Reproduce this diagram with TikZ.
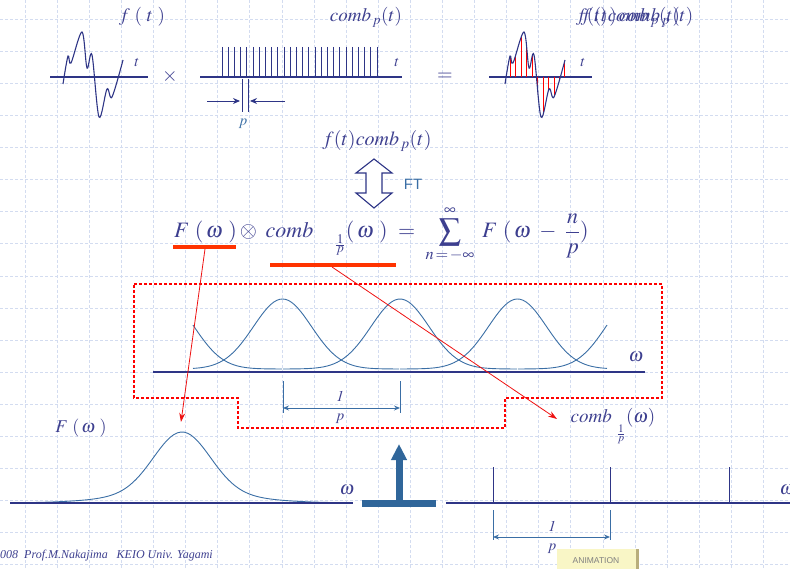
\documentclass[tikz,border=0pt]{standalone}
\usepackage{amsmath,amssymb}
\usepackage{mathptmx}
\usepackage{fontspec}
\setmainfont{Liberation Serif}
\setsansfont{Liberation Sans}
\usetikzlibrary{arrows.meta}
\definecolor{ink}{HTML}{3D3F8F}
\definecolor{axisnavy}{HTML}{2E3586}
\definecolor{steel}{HTML}{3A6EA5}
\definecolor{gridblue}{HTML}{D3DCF0}
\definecolor{hilite}{HTML}{FF3300}
\definecolor{pointred}{HTML}{EE1111}
\definecolor{bigarrow}{HTML}{30669A}
\definecolor{button}{HTML}{F9F6C6}
\definecolor{buttonedge}{HTML}{B9AE7C}

\begin{document}
\begin{tikzpicture}[x=1pt,y=-1pt,every node/.style={font=\fontsize{19}{22}\selectfont,text=ink,inner sep=0pt},
  axisline/.style={axisnavy,line width=1.1pt},
  curve/.style={steel,line width=0.9pt},
  dimline/.style={steel,line width=0.8pt},
  dimarrow/.style={steel,line width=0.9pt,{Stealth[length=6pt,width=5pt]}-{Stealth[length=6pt,width=5pt]}},
  pointer/.style={pointred,line width=0.8pt,-{Stealth[length=9pt,width=6pt]}},
  underbar/.style={hilite,line width=3.5pt},
  outline/.style={red,line width=2.6pt,dash pattern=on 2.6pt off 2.4pt},
  small/.style={font=\fontsize{15}{17}\selectfont}]
\useasboundingbox (0,0) rectangle (790,569);
\foreach \k in {0,...,24}{\draw[gridblue,line width=.5pt,dash pattern=on 3pt off 2pt] (25+32.1*\k,0)--(25+32.1*\k,569);}
\foreach \k in {0,...,17}{\draw[gridblue,line width=.5pt,dash pattern=on 3pt off 2pt] (0,19+32.1*\k)--(790,19+32.1*\k);}
\draw[axisline] (50,77)--(148,77);
\draw[axisnavy,line width=1.1pt] plot[smooth,tension=.55] coordinates {(63,84) (68,56) (71,63) (82,32) (87,68) (92,55) (99,117) (107,89) (112,97) (123,60)};
\node (ft) at (142,17) {$f\ (\ t\ )$};
\node[small] (tA) at (137,63) {$t$};
\node[font=\fontsize{20}{22}\selectfont] (times) at (170,77) {$\times$};
\draw[axisline] (200,77)--(402,77);
\foreach \i in {0,...,25}{\draw[axisnavy,line width=.7pt] (222+6.2*\i,47)--(222+6.2*\i,77);}
\draw[axisnavy,line width=.9pt] (242,79)--(242,112) (248,79)--(248,112);
\coordinate (pL0) at (207,101);
\coordinate (pL1) at (240,101);
\coordinate (pR0) at (285,101);
\coordinate (pR1) at (250,101);
\draw[axisnavy,line width=.9pt,-{Stealth[length=7pt,width=6pt]}] (pL0)--(pL1);
\draw[axisnavy,line width=.9pt,-{Stealth[length=7pt,width=6pt]}] (pR0)--(pR1);
\node[small,text=steel] (pA) at (243,124) {$p$};
\node (combp) at (366,17) {$comb_{\,p}(t)$};
\node[small] (tB) at (397,63) {$t$};
\node[font=\fontsize{20}{22}\selectfont] (equals) at (445,77) {$=$};
\draw[axisline] (489,77)--(592,77);
\begin{scope}[shift={(442,0)}]
\begin{scope}
\clip plot[smooth,tension=.55] coordinates {(63,84) (68,56) (71,63) (82,32) (87,68) (92,55) (99,117) (107,89) (112,97) (123,60)}--(123,77)--(63,77)--cycle;
\foreach \x in {68,73.5,79,84.5,90,95.5,101,106.5,112,117.5,122.5}{\draw[red,line width=.7pt] (\x,20)--(\x,130);}
\end{scope}
\draw[axisnavy,line width=1.1pt] plot[smooth,tension=.55] coordinates {(63,84) (68,56) (71,63) (82,32) (87,68) (92,55) (99,117) (107,89) (112,97) (123,60)};
\end{scope}
\node[small] (tC) at (583,63) {$t$};
\node (prodA) at (628,17) {$f(t)comb_{\,p}(t)$};
\node (prodB) at (637,17) {$f\,(t\,)\,comb_{\,p}\,(t)$};
\node[font=\fontsize{20}{22}\selectfont] (ftcomb) at (377,141) {$f(t)comb_{\,p}(t)$};
\draw[axisnavy,line width=1.1pt,fill=white] (374,159)--(392,173)--(382,173)--(382,193)--(392,193)--(374,208)--(356,193)--(366,193)--(366,173)--(356,173)--cycle;
\node[font=\sffamily\fontsize{15}{17}\selectfont,text=steel] (ftlabel) at (413,184) {FT};
\node[anchor=base west,font=\fontsize{22}{25}\selectfont] (conv) at (174,238) {$F\ (\,\omega\ )\otimes\ comb\quad{}_{\raisebox{-.7ex}{$\scriptscriptstyle\frac{1}{p}$}}(\,\omega\ )\ =\ \displaystyle\sum_{n\,=\,-\infty}^{\infty}\ F\ (\,\omega\ -\ \frac{n}{p})$};
\draw[underbar] (173,247)--(236,247);
\draw[underbar] (270,265)--(396,265);
\coordinate (ulF) at (205,249);
\coordinate (ulC) at (332,267);
\coordinate (peakF) at (181,422);
\coordinate (combTip) at (557,419);
\draw[outline] (134,284)--(662,284)--(662,398)--(505,398)--(505,428)--(238,428)--(238,398)--(134,398)--cycle;
\foreach \c/\a/\b in {165/193/282,282.5/193/399,400/283/517,517.5/400/607,635/518/607}{\draw[curve] plot[domain=\a:\b,samples=70] (\x,{369-70*exp(-0.5*((\x-\c)/29)^2)});}
\draw[axisline] (153,372)--(645,372);
\node (omA) at (636,357) {$\omega$};
\draw[dimline] (283,381)--(283,413) (400,381)--(400,413);
\coordinate (dAl) at (283,408);
\coordinate (dAr) at (400,408);
\draw[dimarrow] (dAl)--(dAr);
\node[small] (oneA) at (340,396) {$\mathit{1}$};
\node[small] (pB) at (340,419) {$p$};
\node[font=\fontsize{18}{20}\selectfont] (Fw) at (81,428) {$F\ (\,\omega\ )$};
\draw[curve] plot[domain=30:335,samples=90] (\x,{503-71*(0.85*exp(-0.5*((\x-182)/28)^2)+0.15*exp(-0.5*((\x-182)/60)^2))});
\draw[axisline] (10,503)--(353,503);
\node (omB) at (347,490) {$\omega$};
\fill[bigarrow] (362,500) rectangle (436,507);
\coordinate (bigBase) at (399,501);
\coordinate (bigTip) at (399,444);
\draw[bigarrow,line width=7pt,-{Triangle[length=16pt,width=15pt]}] (bigBase)--(bigTip);
\draw[axisline] (446,503)--(790,503);
\foreach \x in {493,610,729}{\draw[axisnavy,line width=1pt] (\x,467)--(\x,503);}
\node (combw) at (613,426) {$comb\ {}_{\raisebox{-1.3ex}{$\scriptscriptstyle\frac{1}{p}$}}(\omega)$};
\node (omC) at (787,490) {$\omega$};
\draw[dimline] (493,510)--(493,540) (610,510)--(610,540);
\coordinate (dBl) at (493,537);
\coordinate (dBr) at (610,537);
\draw[dimarrow] (dBl)--(dBr);
\node[small] (oneB) at (552,526) {$\mathit{1}$};
\node[small] (pC) at (552,549) {$p$};
\draw[pointer] (ulF)--(peakF);
\draw[pointer] (ulC)--(combTip);
\node[anchor=west,font=\fontsize{12}{14}\selectfont\itshape] (credit) at (0,556) {008\ \ Prof.M.Nakajima\ \ \ KEIO Univ. Yagami};
\fill[button] (557,549) rectangle (636,569);
\fill[buttonedge] (636,549) rectangle (639,569);
\node[font=\sffamily\fontsize{8.5}{10}\selectfont,text=gray] (anim) at (596,561) {ANIMATION};
\end{tikzpicture}
\end{document}
